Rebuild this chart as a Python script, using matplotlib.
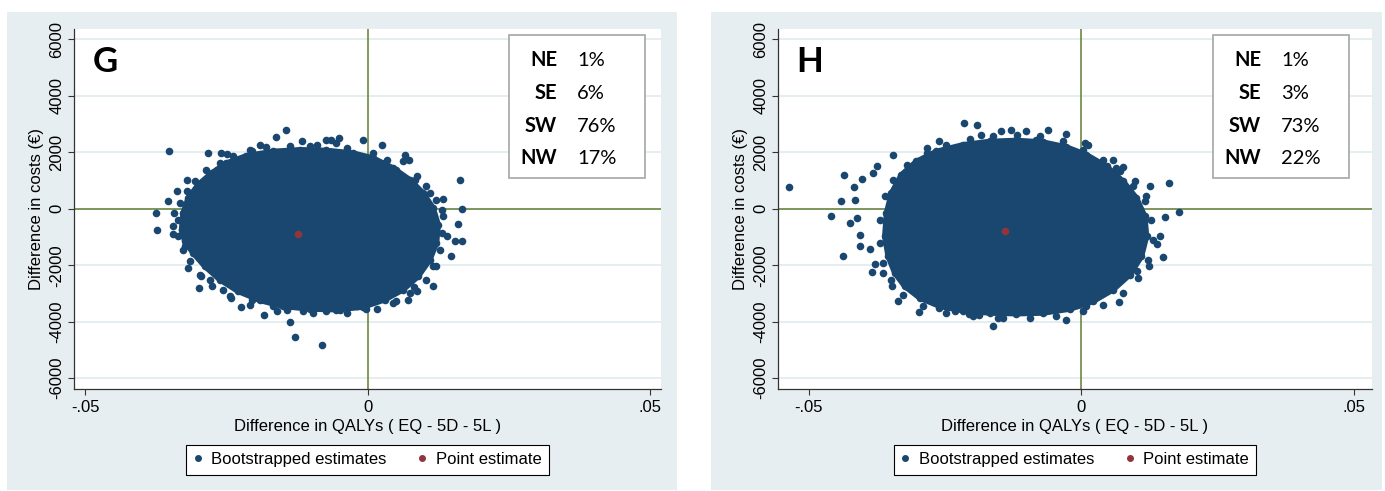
import matplotlib

matplotlib.use("Agg")

import matplotlib.pyplot as plt
from matplotlib.lines import Line2D
from matplotlib.patches import Rectangle

plt.rcParams["font.family"] = ["Liberation Sans", "DejaVu Sans"]

FIG_W, FIG_H = 1385, 491

NAVY = "#1a476f"
MAROON = "#90353b"
REF_GREEN = "#5f7f35"
PANEL_BG = "#e7eef1"
GRID = "#e4edf0"

# axis ticks
Y_TICKS = [-6000, -4000, -2000, 0, 2000, 4000, 6000]
X_TICKS = [-0.05, 0, 0.05]
X_TICK_LABELS = ["-.05", "0", ".05"]

QUADRANTS = ["NE", "SE", "SW", "NW"]
G_SHARES = ["1%", "6%", "76%", "17%"]
H_SHARES = ["1%", "3%", "73%", "22%"]

# panel G: outline of the dense bootstrap cloud, replicates along its edge, outliers, point estimate
G_CORE_X = [-0.03292, -0.03263, -0.03174, -0.02997, -0.02761, -0.02496, -0.02142, -0.01670,
            -0.01198, -0.00726, -0.00254, 0.00100, 0.00454, 0.00749, 0.00985, 0.01162,
            0.01251, 0.01221, 0.01103, 0.00897, 0.00631, 0.00307, -0.00077, -0.00549,
            -0.01021, -0.01493, -0.01906, -0.02289, -0.02614, -0.02879, -0.03086, -0.03233]
G_CORE_Y = [-743, -153, 378, 850, 1263, 1617, 1876, 2030,
            2089, 2065, 1971, 1794, 1440, 1027, 555, 24,
            -566, -1215, -1805, -2395, -2867, -3221, -3481, -3575,
            -3552, -3457, -3245, -2926, -2513, -2041, -1569, -1156]
G_RING_X = [-0.0208, -0.0179, -0.0137, -0.0090, -0.0064, -0.0055, -0.0037, 0.0010, 0.0034,
            0.0063, 0.0087, 0.0104, 0.0122, 0.0134, 0.0131, 0.0128, 0.0122, 0.0104,
            0.0087, 0.0051, -0.0002, -0.0037, -0.0073, -0.0114, -0.0161, -0.0208, -0.0244,
            -0.0276, -0.0297, -0.0314, -0.0326, -0.0335, -0.0335, -0.0332, -0.0320, -0.0306,
            -0.0285, -0.0261, -0.0238]
G_RING_Y = [2089, 2183, 2207, 2266, 2419, 2325, 2148, 1971, 1735,
            1676, 1145, 791, 319, -271, -861, -1451, -2041, -2513,
            -2926, -3280, -3552, -3693, -3634, -3634, -3634, -3398, -3103,
            -2749, -2336, -1864, -1451, -979, -389, 201, 614, 968,
            1381, 1617, 1853]
G_EDGE_X = [-0.0351, -0.0375, -0.0373, -0.0354, -0.0338, -0.0320, -0.0344, -0.0344, -0.0283,
            -0.0260, -0.0248, -0.0191, -0.0162, -0.0145, -0.0116, -0.0074, -0.0051, -0.0008,
            0.0025, 0.0066, 0.0074, 0.0163, 0.0133, 0.0168, 0.0160, 0.0168, 0.0155,
            0.0147, 0.0116, 0.0083, 0.0071, 0.0016, -0.0080, -0.0129, -0.0137, -0.0183,
            -0.0224, -0.0241, -0.0298, -0.0317, -0.0323, -0.0342, -0.0288, -0.0267, -0.0235,
            -0.0205, -0.0102, 0.0031, 0.0051, 0.0084, 0.0110, 0.0131, 0.0140, 0.0116,
            0.0075, 0.0045, -0.0019, -0.0049, -0.0096, -0.0143, -0.0167, -0.0205, -0.0255,
            -0.0279, -0.0294]
G_EDGE_Y = [2053, -153, -743, 260, 614, 1003, -625, -897, 1971,
            1971, 1935, 2266, 2525, 2773, 2384, 2443, 2502, 2419,
            2266, 1888, 1711, 1003, 342, 0, -543, -1156, -1156,
            -1687, -2726, -2785, -3245, -3552, -4814, -4543, -4024, -3752,
            -3493, -3162, -2808, -2100, -1310, -153, 932, 1381, 1735,
            2030, 2230, 1617, 1381, 1027, 555, -35, -979, -2041,
            -2985, -3339, -3457, -3575, -3693, -3575, -3457, -3221, -2867,
            -2513, -2395]
G_POINT = (-0.0123, -885)

# panel H
H_CORE_X = [-0.03609, -0.03578, -0.03486, -0.03303, -0.03028, -0.02661, -0.02171, -0.01682,
            -0.01193, -0.00703, -0.00275, 0.00092, 0.00459, 0.00765, 0.01009, 0.01162,
            0.01193, 0.01101, 0.00887, 0.00581, 0.00214, -0.00214, -0.00703, -0.01193,
            -0.01682, -0.02171, -0.02599, -0.02966, -0.03242, -0.03425, -0.03547]
H_CORE_Y = [-979, -153, 555, 1204, 1676, 2030, 2266, 2384,
            2419, 2360, 2183, 1912, 1499, 968, 378, -271,
            -979, -1687, -2336, -2867, -3280, -3552, -3693, -3717,
            -3693, -3611, -3457, -3162, -2749, -2277, -1687]
H_RING_X = [-0.0370, -0.0370, -0.0364, -0.0349, -0.0327, -0.0291, -0.0248, -0.0199, -0.0144,
            -0.0095, -0.0046, 0.0003, 0.0040, 0.0076, 0.0104, 0.0122, 0.0131, 0.0128,
            0.0116, 0.0095, 0.0070, 0.0040, 0.0003, -0.0034, -0.0076, -0.0119, -0.0162,
            -0.0205, -0.0248, -0.0284, -0.0321, -0.0346, -0.0361]
H_RING_Y = [-389, -1215, -1923, -2513, -3044, -3457, -3693, -3811, -3870,
            -3870, -3811, -3634, -3398, -2985, -2454, -1805, -1097, -389,
            260, 791, 1322, 1735, 2089, 2384, 2561, 2620, 2561,
            2466, 2266, 1971, 1558, 1027, 437]
H_EDGE_X = [-0.0537, -0.0459, -0.0436, -0.0442, -0.0437, -0.0425, -0.0417, -0.0403, -0.0407,
            -0.0406, -0.0385, -0.0388, -0.0379, -0.0348, -0.0336, -0.0298, -0.0261, -0.0216,
            -0.0192, -0.0185, -0.0147, -0.0130, -0.0101, -0.0062, -0.0028, 0.0007, 0.0012,
            0.0057, 0.0076, 0.0161, 0.0179, 0.0153, 0.0149, 0.0138, 0.0069, -0.0029,
            -0.0163, -0.0153, -0.0188, -0.0206, -0.0232, -0.0262, -0.0242, -0.0009, 0.0009,
            0.0046, 0.0101, 0.0124, 0.0144, 0.0119, 0.0125, 0.0098, 0.0064, -0.0083,
            -0.0284, -0.0346, -0.0376, -0.0382, -0.0416, -0.0412, -0.0364]
H_EDGE_Y = [754, -271, 1204, 283, -1687, -508, 754, 1062, -920,
            -1333, -2254, -1428, -1947, -2749, -3257, -3670, 2395, 3033,
            2974, 2620, 2761, 2797, 2738, 2773, 2643, 2325, 2242,
            1735, 1475, 909, -118, -295, -1723, -1239, -3316, -3929,
            -4142, -3870, -3752, -3717, -3634, -3516, -3398, -3398, -3457,
            -2867, -2218, -2041, -979, 437, 791, 968, 1440, 2443,
            2148, 1912, 1499, 1263, 319, -330, -2277]
H_POINT = (-0.0140, -800)


def fx(px: float) -> float:
    return px / FIG_W


def fy(py: float) -> float:
    return 1 - py / FIG_H


def draw_panel(fig, letter, axes_px, bg_px, box_left, xlim, core, ring, edge, point, shares):
    left, top, right, bottom = axes_px
    x0, x1 = bg_px
    fig.add_artist(Rectangle((fx(x0), fy(490)), (x1 - x0) / FIG_W, 478 / FIG_H,
                             transform=fig.transFigure, facecolor=PANEL_BG, edgecolor="none", zorder=-5))

    ax = fig.add_axes([fx(left), fy(bottom), (right - left) / FIG_W, (bottom - top) / FIG_H])
    ax.set_facecolor("white")
    ax.set_axisbelow(True)
    ax.yaxis.grid(True, color=GRID, lw=1.4)
    ax.axhline(0, color=REF_GREEN, lw=1.1, zorder=2)
    ax.axvline(0, color=REF_GREEN, lw=1.1, zorder=2)

    ax.fill(core[0], core[1], color=NAVY, ec=NAVY, lw=4, zorder=3)
    for xs, ys in (core, ring, edge):
        ax.scatter(xs, ys, s=30, color=NAVY, lw=0, zorder=3)
    ax.scatter([point[0]], [point[1]], s=30, color=MAROON, lw=0, zorder=4)

    ax.set_xlim(xlim)
    ax.set_ylim(-6385, 6385)
    ax.set_xticks(X_TICKS)
    ax.set_xticklabels(X_TICK_LABELS)
    ax.set_yticks(Y_TICKS)
    ax.set_yticklabels([str(v) for v in Y_TICKS])
    for side in ("top", "right"):
        ax.spines[side].set_visible(False)
    for side in ("left", "bottom"):
        ax.spines[side].set_color("#333333")
        ax.spines[side].set_linewidth(0.9)
    ax.tick_params(direction="out", length=4.5, width=0.8, color="#333333", labelsize=12)
    ax.tick_params(axis="x", pad=3.5)
    ax.tick_params(axis="y", pad=2.5)
    plt.setp(ax.get_yticklabels(), rotation=90, va="center")

    mid = (left + right) / 2
    fig.text(fx(left - 38), fy((top + bottom) / 2), "Difference in costs (\u20ac)", rotation=90,
             ha="center", va="center", fontsize=12)
    fig.text(fx(mid), fy(427), "Difference in QALYs ( EQ - 5D - 5L )", ha="center", va="center", fontsize=12)

    fig.text(fx(left + 18), fy(72), letter, family="Lato", fontweight="bold", fontsize=25, ha="left", va="baseline")

    fig.add_artist(Rectangle((fx(box_left), fy(178)), 136 / FIG_W, 143 / FIG_H, transform=fig.transFigure,
                             facecolor="white", edgecolor="#a6a6a6", lw=1.2, zorder=2))
    for name, share, base in zip(QUADRANTS, shares, [66.5, 99, 131.5, 164]):
        fig.text(fx(box_left + 48), fy(base), name, family="Lato", fontweight="bold", fontsize=14.5,
                 ha="right", va="baseline", zorder=3)
        fig.text(fx(box_left + 68), fy(base), share, family="Lato", fontsize=14.5,
                 ha="left", va="baseline", zorder=3)

    handles = [
        Line2D([], [], ls="none", marker="o", ms=4, mfc=NAVY, mec=NAVY),
        Line2D([], [], ls="none", marker="o", ms=4, mfc=MAROON, mec=MAROON),
    ]
    leg = ax.legend(handles, ["Bootstrapped estimates", "Point estimate"], loc="center",
                    bbox_to_anchor=(fx(mid), fy(459.5)), bbox_transform=fig.transFigure, ncol=2,
                    frameon=True, fancybox=False, edgecolor="black", framealpha=1, fontsize=12,
                    handlelength=0.5, handletextpad=0.55, columnspacing=1.9, borderpad=0.45, borderaxespad=0)
    leg.get_frame().set_linewidth(0.8)
    return ax


fig = plt.figure(figsize=(FIG_W / 100, FIG_H / 100), dpi=100, facecolor="white")

draw_panel(fig, "G", (74.3, 28.5, 661, 389), (7, 677), 509, (-0.0519, 0.05195),
           (G_CORE_X, G_CORE_Y), (G_RING_X, G_RING_Y), (G_EDGE_X, G_EDGE_Y), G_POINT, G_SHARES)
draw_panel(fig, "H", (778.3, 28.5, 1371.7, 389), (711, 1382), 1213, (-0.05563, 0.05325),
           (H_CORE_X, H_CORE_Y), (H_RING_X, H_RING_Y), (H_EDGE_X, H_EDGE_Y), H_POINT, H_SHARES)

fig.savefig("out.png", dpi=100, facecolor="white")
